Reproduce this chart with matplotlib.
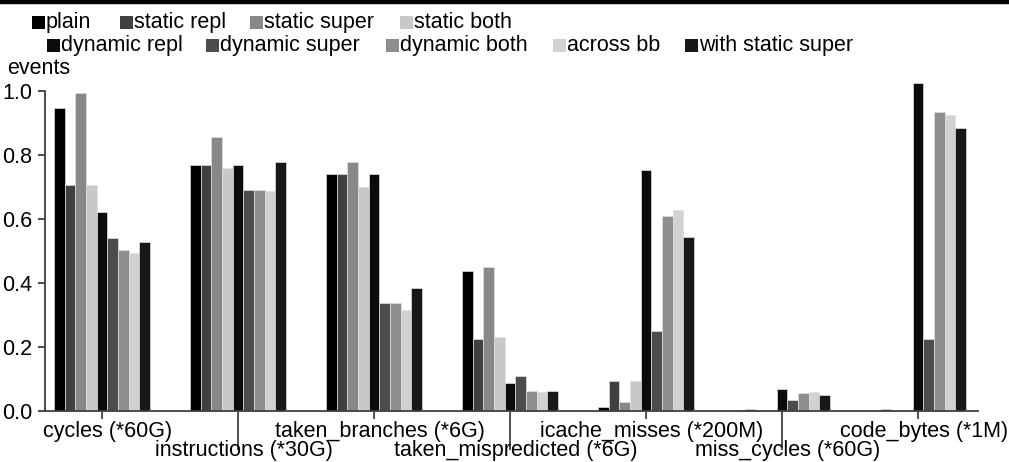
import matplotlib
matplotlib.use("Agg")
import matplotlib.pyplot as plt
import numpy as np
from matplotlib.patches import Rectangle
from matplotlib.lines import Line2D
import matplotlib.transforms as mtransforms

plt.rcParams['font.family'] = ['Liberation Sans', 'DejaVu Sans']

categories = ["cycles (*60G)", "instructions (*30G)", "taken_branches (*6G)",
              "taken_mispredicted (*6G)", "icache_misses (*200M)",
              "miss_cycles (*60G)", "code_bytes (*1M)"]
series = ["plain", "static repl", "static super", "static both",
          "dynamic repl", "dynamic super", "dynamic both", "across bb",
          "with static super"]
colors = ["#000000", "#404040", "#888888", "#c8c8c8",
          "#0b0b0b", "#4c4c4c", "#8e8e8e", "#d2d2d2", "#181818"]

plain             = [0.946, 0.770, 0.742, 0.436, 0.0115, 0.003, 0.001]
static_repl       = [0.706, 0.770, 0.742, 0.225, 0.093, 0.007, 0.005]
static_super      = [0.993, 0.856, 0.777, 0.451, 0.029, 0.002, 0.001]
static_both       = [0.706, 0.759, 0.699, 0.231, 0.093, 0.004, 0.004]
dynamic_repl      = [0.622, 0.770, 0.742, 0.0865, 0.752, 0.070, 1.026]
dynamic_super     = [0.542, 0.690, 0.3375, 0.109, 0.251, 0.033, 0.225]
dynamic_both      = [0.502, 0.690, 0.3375, 0.0625, 0.609, 0.056, 0.933]
across_bb         = [0.495, 0.686, 0.315, 0.060, 0.629, 0.058, 0.925]
with_static_super = [0.528, 0.778, 0.383, 0.0635, 0.545, 0.049, 0.883]

values = [plain, static_repl, static_super, static_both, dynamic_repl,
          dynamic_super, dynamic_both, across_bb, with_static_super]

yticks = [0.0, 0.2, 0.4, 0.6, 0.8, 1.0]

FS = 15.5
W, H = 1009, 462
fig = plt.figure(figsize=(W / 100, H / 100), dpi=100)
ax = fig.add_axes([45 / W, 1 - 411 / H, (978 - 45) / W, (411 - 91) / H])

stride = 12.75
ngroups = len(categories)
nser = len(series)
for j, (vals, c) in enumerate(zip(values, colors)):
    xs = np.arange(ngroups) * stride + j
    ax.bar(xs, vals, width=1.0, align='edge', color=c, edgecolor='#e0e0e0',
           linewidth=0.5, clip_on=False, zorder=2)

ax.set_xlim(-0.84, (ngroups - 1) * stride + nser + 1.125)
ax.set_ylim(0, 1.0)

spine_c = '#404040'
for s in ['top', 'right']:
    ax.spines[s].set_visible(False)
for s in ['left', 'bottom']:
    ax.spines[s].set_color(spine_c)
    ax.spines[s].set_linewidth(1.3)
    ax.spines[s].set_zorder(3)

ax.set_yticks(yticks)
ax.set_yticklabels([f"{v:.1f}" for v in yticks], fontsize=FS)
ax.tick_params(axis='y', direction='out', length=5, width=1.3, color=spine_c, pad=4)

centers = np.arange(ngroups) * stride + nser / 2
ax.set_xticks(centers[0::2])
ax.set_xticklabels(categories[0::2], fontsize=FS)
ax.set_xticks(centers[1::2], minor=True)
ax.set_xticklabels(categories[1::2], minor=True, fontsize=FS)
ax.tick_params(axis='x', which='major', direction='out', length=6, width=1.3,
               color=spine_c, pad=1)
ax.tick_params(axis='x', which='minor', direction='out', length=28, width=1.3,
               color=spine_c, pad=-7)
off = mtransforms.ScaledTranslation(6 / 100, 0, fig.dpi_scale_trans)
for lab in ax.get_xticklabels() + ax.get_xticklabels(minor=True):
    lab.set_transform(lab.get_transform() + off)

# top rule
fig.add_artist(Line2D([0, 1], [1 - 2 / H, 1 - 2 / H], color='black', linewidth=3.2,
                      transform=fig.transFigure))

fig.text(7 / W, 1 - 69 / H, "events", fontsize=FS, va='center', ha='left')

# legend, two rows
row_pos = [(32, 22), (120, 22), (250, 22), (400, 22),
           (47, 45), (206, 45), (386, 45), (553, 45), (685, 45)]
sq = 13
for (px, py), name, c in zip(row_pos, series, colors):
    fig.add_artist(Rectangle((px / W, 1 - (py + sq / 2) / H), sq / W, sq / H,
                             facecolor=c, edgecolor='none', transform=fig.transFigure))
    fig.text((px + sq + 1) / W, 1 - (py + 0.5) / H, name, fontsize=FS,
             va='center', ha='left')

fig.savefig("out.png", dpi=100)
